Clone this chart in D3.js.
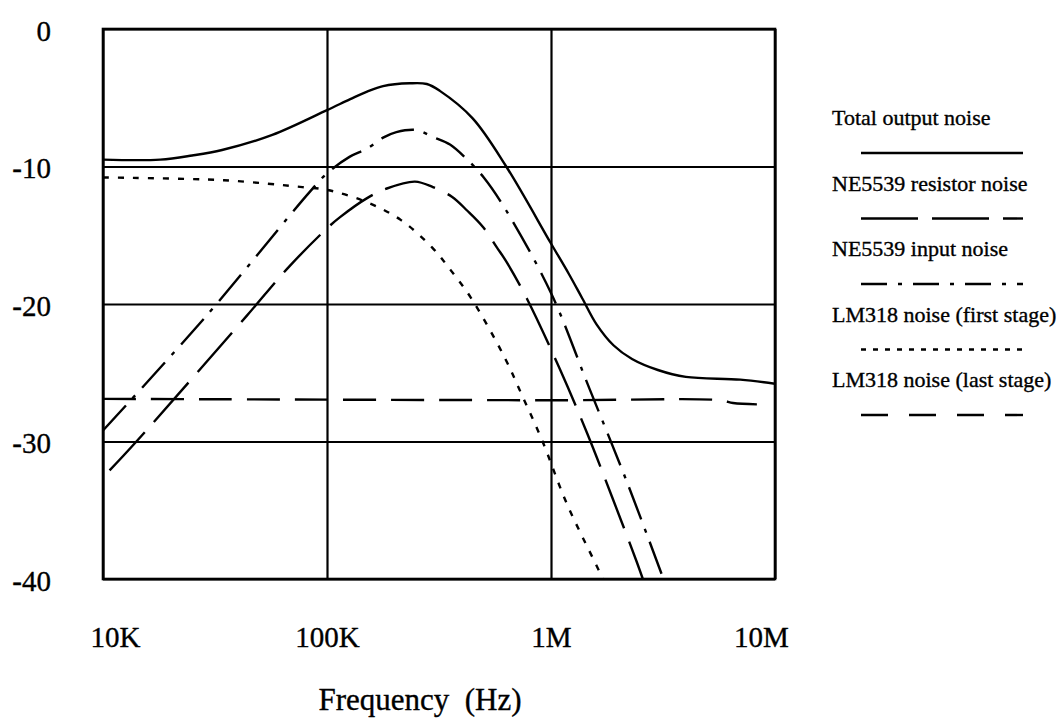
<!DOCTYPE html>
<html>
<head>
<meta charset="utf-8">
<script src="https://cdn.jsdelivr.net/npm/d3@7"></script>
<style>
  html, body { margin: 0; padding: 0; background: #fff; }
  svg { display: block; }
  text { font-family: "Liberation Serif", "Times New Roman", serif; fill: #000; stroke: #000; stroke-width: 0.35px; }
</style>
</head>
<body>
<svg id="chart" width="1061" height="725"></svg>
<script>
// ---- data (frequency in Hz, level in dB) ----
const xTickValues = [1e4, 1e5, 1e6, 1e7];
const xTickLabels = ["10K", "100K", "1M", "10M"];
const yTickValues = [0, -10, -20, -30, -40];
const yTickLabels = ["0", "-10", "-20", "-30", "-40"];
const xTitle = "Frequency  (Hz)";

const seriesNames = [
  "Total output noise",
  "NE5539 resistor noise",
  "NE5539 input noise",
  "LM318 noise (first stage)",
  "LM318 noise (last stage)"
];

const totalFreq = [10000, 18000, 25000, 34000, 57000, 100000, 127000, 151000, 178000, 234000, 279000, 319000, 447000, 631000, 1000000, 1200000, 1380000, 1600000, 1900000, 2300000, 3000000, 4000000, 7000000, 10000000];
const totalDb   = [-9.5, -9.5, -9.2, -8.8, -7.7, -5.9, -5.1, -4.55, -4.15, -3.95, -4.0, -4.5, -6.5, -10.0, -15.6, -17.8, -19.6, -21.5, -23.0, -24.0, -24.8, -25.3, -25.5, -25.8];

const resistorFreq = [10700, 14100, 43600, 67600, 100000, 114000, 151000, 185000, 247000, 297000, 361000, 422000, 497000, 574000, 631000, 780000, 1100000, 1450000, 1870000, 2420000, 2570000];
const resistorDb   = [-32.1, -30.0, -20.9, -17.3, -14.5, -13.7, -12.3, -11.6, -11.1, -11.5, -12.2, -13.2, -14.4, -15.9, -16.9, -19.6, -24.8, -29.4, -34.0, -38.8, -40.0];

const inputFreq = [10000, 28800, 83200, 100000, 126000, 151000, 178000, 204000, 251000, 297000, 354000, 417000, 501000, 631000, 1000000, 1480000, 2190000, 3160000];
const inputDb   = [-29.2, -20.9, -11.9, -10.5, -9.3, -8.7, -7.9, -7.5, -7.35, -7.85, -8.4, -9.4, -10.8, -13.2, -19.2, -26.1, -33.0, -39.9];

const firstFreq = [10000, 34600, 77600, 100000, 151000, 214000, 295000, 355000, 437000, 617000, 750000, 912000, 1175000, 1660000, 1700000];
const firstDb   = [-10.8, -11.0, -11.5, -11.7, -12.6, -13.9, -15.9, -17.5, -19.5, -23.8, -26.8, -29.9, -34.5, -39.6, -40.0];

const lastFreq = [10000, 1000000, 5700000, 6500000, 8300000];
const lastDb   = [-26.9, -27.0, -27.0, -27.2, -27.3];

// ---- layout ----
const svg = d3.select("#chart");
const plot = { left: 103, right: 775, top: 29, bottom: 579 };

const x = d3.scaleLog().domain([1e4, 1e7]).range([plot.left, plot.right]);
const y = d3.scaleLinear().domain([-40, 0]).range([plot.bottom, plot.top]);

// gridlines + y labels
const yAxis = d3.axisLeft(y)
  .tickValues(yTickValues)
  .tickFormat((d, i) => yTickLabels[i])
  .tickSize(-(plot.right - plot.left))
  .tickPadding(52);
const gy = svg.append("g").attr("transform", `translate(${plot.left},0)`).call(yAxis);
gy.select(".domain").remove();
gy.selectAll(".tick line").attr("stroke", "#000").attr("stroke-width", 2.2);
gy.selectAll(".tick text").attr("font-size", 29).attr("dy", "0.38em")
  .style("font-family", '"Liberation Serif", serif');

const xAxis = d3.axisBottom(x)
  .tickValues(xTickValues)
  .tickFormat((d, i) => xTickLabels[i])
  .tickSize(-(plot.bottom - plot.top))
  .tickPadding(47);
const gx = svg.append("g").attr("transform", `translate(0,${plot.bottom})`).call(xAxis);
gx.select(".domain").remove();
gx.selectAll(".tick line").attr("stroke", "#000").attr("stroke-width", 2.2);
gx.selectAll(".tick text").attr("font-size", 29)
  .style("font-family", '"Liberation Serif", serif')
  .attr("dx", (d, i) => i === 0 ? 12 : (i === xTickValues.length - 1 ? -14 : 0));

// frame
svg.append("rect")
  .attr("x", plot.left).attr("y", plot.top)
  .attr("width", plot.right - plot.left).attr("height", plot.bottom - plot.top)
  .attr("fill", "none").attr("stroke", "#000").attr("stroke-width", 2.6);

// x title
svg.append("text")
  .attr("x", 420).attr("y", 710)
  .attr("text-anchor", "middle")
  .attr("font-size", 31)
  .style("white-space", "pre")
  .text(xTitle);

// ---- series ----
const dashes = ["none", "52,14", "34,10,4,10", "6,9", "33,15"];
const legendDashes = ["none", "57,14", "26,11,4,11", "5,7", "27,21"];
const seriesData = [
  d3.zip(totalFreq, totalDb),
  d3.zip(resistorFreq, resistorDb),
  d3.zip(inputFreq, inputDb),
  d3.zip(firstFreq, firstDb),
  d3.zip(lastFreq, lastDb)
];

const line = d3.line()
  .x(d => x(d[0]))
  .y(d => y(d[1]))
  .curve(d3.curveCatmullRom.alpha(0.5));

svg.append("defs").append("clipPath").attr("id", "clip")
  .append("rect").attr("x", plot.left).attr("y", plot.top)
  .attr("width", plot.right - plot.left).attr("height", plot.bottom - plot.top);

svg.append("g").attr("clip-path", "url(#clip)")
  .selectAll("path")
  .data(seriesData)
  .join("path")
  .attr("d", line)
  .attr("fill", "none")
  .attr("stroke", "#000")
  .attr("stroke-width", 2.4)
  .attr("stroke-dasharray", (d, i) => dashes[i]);

// ---- legend ----
const legendX = 832;
const legendLineX0 = 861, legendLineX1 = 1023;
const legendTop = 125, legendStep = 65.5;
const lg = svg.append("g");
seriesNames.forEach((name, i) => {
  const ty = legendTop + i * legendStep;
  lg.append("text")
    .attr("x", legendX).attr("y", ty)
    .attr("font-size", 22)
    .text(name);
  lg.append("line")
    .attr("x1", legendLineX0).attr("x2", legendLineX1)
    .attr("y1", ty + 28).attr("y2", ty + 28)
    .attr("stroke", "#000").attr("stroke-width", 2.4)
    .attr("stroke-dasharray", legendDashes[i]);
});
</script>
</body>
</html>
